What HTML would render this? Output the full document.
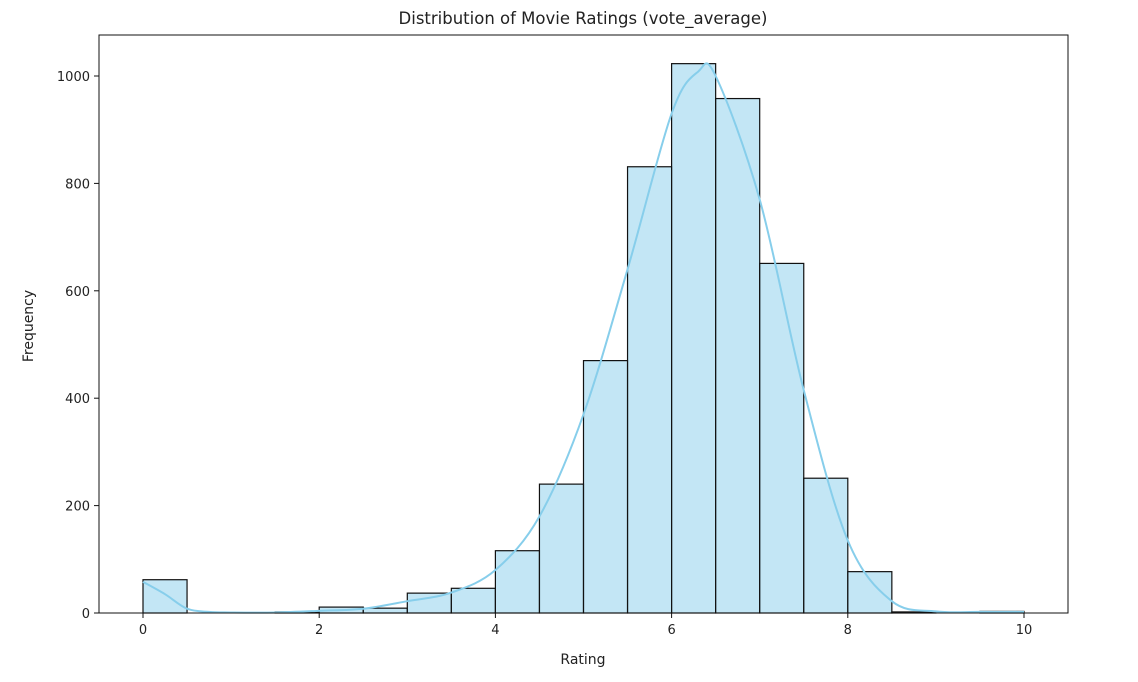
<!DOCTYPE html>
<html><head><meta charset="utf-8"><style>
body{margin:0;background:#fff;font-family:"Liberation Sans","DejaVu Sans",sans-serif;}
svg text{font-family:"DejaVu Sans","Liberation Sans",sans-serif;fill:#222;}
</style></head><body>
<svg id="chart" width="1138" height="677"></svg>
<script>
const binStarts=[0,0.5,1,1.5,2,2.5,3,3.5,4,4.5,5,5.5,6,6.5,7,7.5,8,8.5,9,9.5];
const counts=[62,0,0,2,11,9,37,46,116,240,470,831,1023,958,651,251,77,2,0,3];
const kdeX=[0,0.25,0.5,0.75,1,1.5,2,2.5,3,3.5,4,4.5,5,5.5,6,6.3,6.5,7,7.5,8,8.5,9,9.5,10];
const kdeY=[58,35,8,2,1,1,4,8,22,38,80,180,370,640,930,1008,1000,770,415,135,22,3,2,2];
const xTicks=[0,2,4,6,8,10];
const yTicks=[0,200,400,600,800,1000];
const NS="http://www.w3.org/2000/svg",svg=document.getElementById('chart');
const L=99,R=1068,T=35,B=613;
const X=v=>143+v*88.1, Y=v=>613-v*0.537;
function el(t,a){const e=document.createElementNS(NS,t);for(const k in a)e.setAttribute(k,a[k]);svg.appendChild(e);return e;}
binStarts.forEach((s,i)=>{
 const r=el('rect',{x:X(s),y:Y(counts[i]),width:X(s+0.5)-X(s),height:Y(0)-Y(counts[i]),fill:'rgba(135,206,235,0.5)',stroke:'#111','stroke-width':1.2});
 
 
});
let pts=kdeX.map((x,i)=>[X(x),Y(kdeY[i])]);
let d='M'+pts[0];
for(let i=0;i<pts.length-1;i++){const p0=pts[Math.max(0,i-1)],p1=pts[i],p2=pts[i+1],p3=pts[Math.min(pts.length-1,i+2)];
 d+=' C'+(p1[0]+(p2[0]-p0[0])/6)+','+(p1[1]+(p2[1]-p0[1])/6)+' '+(p2[0]-(p3[0]-p1[0])/6)+','+(p2[1]-(p3[1]-p1[1])/6)+' '+p2;}
const k=el('path',{d:d,fill:'none',stroke:'#87ceeb','stroke-width':2});


const f=el('rect',{x:L,y:T,width:R-L,height:B-T,fill:'none',stroke:'#111','stroke-width':1});


xTicks.forEach(v=>{el('line',{x1:X(v),x2:X(v),y1:B,y2:B+5,stroke:'#111'});
 const t=el('text',{x:X(v),y:B+21,'text-anchor':'middle','font-size':13});t.textContent=v;
 
 });
yTicks.forEach(v=>{el('line',{x1:L-5,x2:L,y1:Y(v),y2:Y(v),stroke:'#111'});
 const t=el('text',{x:L-9,y:Y(v)+5,'text-anchor':'end','font-size':13});t.textContent=v;
 
 });
let t=el('text',{x:583,y:24,'text-anchor':'middle','font-size':16.5});t.textContent='Distribution of Movie Ratings (vote_average)';


t=el('text',{x:583,y:664,'text-anchor':'middle','font-size':14});t.textContent='Rating';


t=el('text',{x:33,y:326,'text-anchor':'middle','font-size':14,transform:'rotate(-90 33 326)'});t.textContent='Frequency';


</script>
</body></html>
